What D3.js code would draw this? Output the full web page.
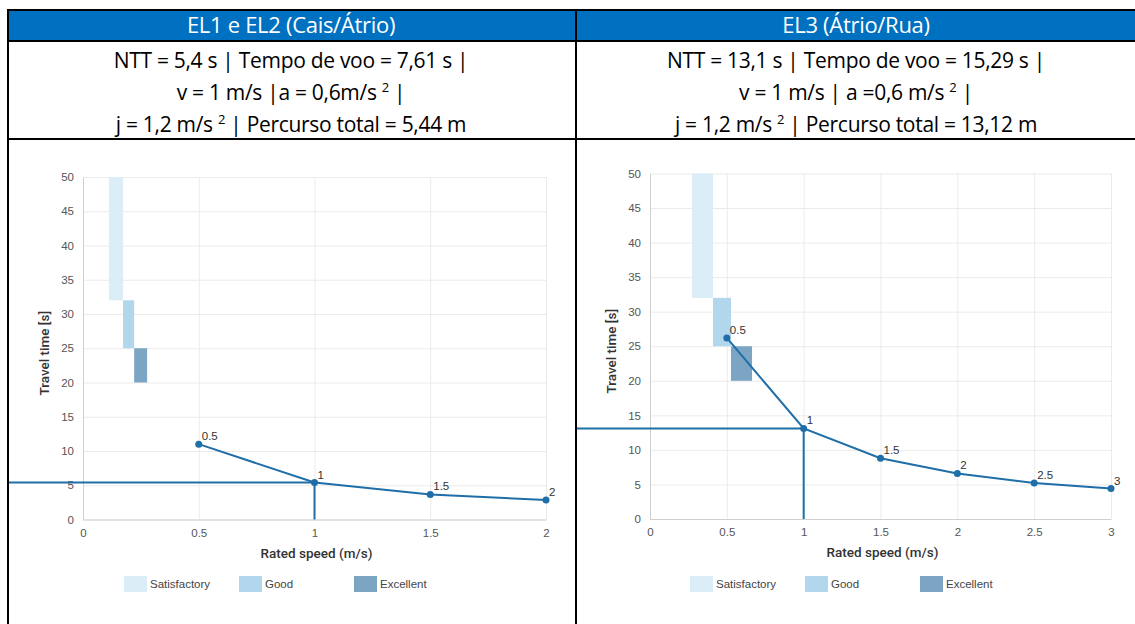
<!DOCTYPE html>
<html>
<head>
<meta charset="utf-8">
<script src="https://cdn.jsdelivr.net/npm/d3@7"></script>
<style>
  body { margin: 0; background: #fff; }
  .head { font-family: "Open Sans", "Noto Sans", sans-serif; font-weight: 500; }
  .tick text { font-family: "Liberation Sans", Arial, sans-serif; font-size: 11.5px; fill: #555; }
  .axis-title { font-family: Roboto, sans-serif; font-weight: 500; font-size: 13.5px; fill: #333; }
  .pt-label { font-family: "Liberation Sans", Arial, sans-serif; font-size: 11.5px; fill: #333; }
  .legend text { font-family: "Liberation Sans", Arial, sans-serif; font-size: 11.5px; fill: #444; }
</style>
</head>
<body>
<div id="chart"></div>
<script>
// data
const titles = ["EL1 e EL2 (Cais/Átrio)", "EL3 (Átrio/Rua)"]

const speedsA = [0.5, 1, 1.5, 2]
const timesA = [11.0, 5.4, 3.65, 2.85]
const speedsB = [0.5, 1, 1.5, 2, 2.5, 3]
const timesB = [26.2, 13.1, 8.8, 6.6, 5.2, 4.4]

const nttA = 5.4
const nttB = 13.1

const bandNames = ["Satisfactory", "Good", "Excellent"]
const bandColors = ["#dbedf7", "#b2d6ec", "#7ba5c3"]
// [x0, x1, yBottom, yTop] in data units
const bandsA = [[0.112, 0.173, 32, 50], [0.173, 0.221, 25, 32], [0.221, 0.277, 20, 25]]
const bandsB = [[0.273, 0.41, 32, 50], [0.41, 0.527, 25, 32], [0.527, 0.664, 20, 25]]

const yTicks = [0, 5, 10, 15, 20, 25, 30, 35, 40, 45, 50]
const xTicksA = [0, 0.5, 1, 1.5, 2]
const xTicksB = [0, 0.5, 1, 1.5, 2, 2.5, 3]

const infoA = [
  [["NTT = 5,4 s "], ["| ", "bar"], ["Tempo de voo = 7,61 s "], ["|", "bar"]],
  [["v = 1 m/s "], ["|", "bar"], ["a = 0,6m/s "], ["2", "sup"], [" |", "bar"]],
  [["j = 1,2 m/s "], ["2", "sup"], [" | ", "bar"], ["Percurso total = 5,44 m"]]
]
const infoB = [
  [["NTT = 13,1 s "], ["| ", "bar"], ["Tempo de voo = 15,29 s "], ["|", "bar"]],
  [["v = 1 m/s "], ["| ", "bar"], ["a =0,6 m/s "], ["2", "sup"], [" |", "bar"]],
  [["j = 1,2 m/s "], ["2", "sup"], [" | ", "bar"], ["Percurso total = 13,12 m"]]
]

const lineColor = "#1f6ea8"

const svg = d3.select("#chart").append("svg")
  .attr("width", 1135)
  .attr("height", 624)

// table
const table = svg.append("g")
table.append("rect")
  .attr("x", 8).attr("y", 10).attr("width", 1140).attr("height", 31)
  .attr("fill", "#0070c0")
const tLines = [
  [8, 10, 1140, 10], [8, 41, 1140, 41], [8, 139, 1140, 139],
  [8, 9, 8, 630], [576, 9, 576, 630]
]
tLines.forEach(l => {
  table.append("line")
    .attr("x1", l[0]).attr("y1", l[1]).attr("x2", l[2]).attr("y2", l[3])
    .attr("stroke", "#000").attr("stroke-width", 2)
})

function drawHeader(title, info, cx) {
  svg.append("text")
    .attr("class", "head")
    .attr("x", cx).attr("y", 33)
    .attr("text-anchor", "middle")
    .attr("fill", "#fff")
    .style("font-size", "22px")
    .style("letter-spacing", "-0.3px")
    .text(title)

  info.forEach((parts, i) => {
    const t = svg.append("text")
      .attr("class", "head")
      .attr("x", cx).attr("y", 68 + i * 32)
      .attr("text-anchor", "middle")
      .attr("fill", "#000")
      .style("font-size", "21px")
      .style("letter-spacing", "-0.3px")
    parts.forEach((p, k) => {
      const s = t.append("tspan").text(p[0])
      if (p[1] == "sup") s.style("font-size", "13px").attr("dy", -8)
      if (p[1] == "bar") s.style("font-weight", 400)
      // back to the baseline after a superscript
      if (p[1] != "sup" && k > 0 && parts[k - 1][1] == "sup") s.attr("dy", 8)
    })
  })
}

function drawPanel(o) {
  const x = d3.scaleLinear().domain([0, o.xMax]).range([o.left, o.right])
  const y = d3.scaleLinear().domain([0, 50]).range([o.bottom, o.top])
  const g = svg.append("g")

  // grid
  g.append("g")
    .attr("transform", `translate(0,${o.bottom})`)
    .call(d3.axisBottom(x).tickValues(o.xTicks).tickSize(o.top - o.bottom).tickFormat(""))
    .call(a => a.select(".domain").remove())
    .call(a => a.selectAll("line").attr("stroke", "#ebebeb"))
  g.append("g")
    .attr("transform", `translate(${o.left},0)`)
    .call(d3.axisLeft(y).tickValues(yTicks).tickSize(o.left - o.right).tickFormat(""))
    .call(a => a.select(".domain").remove())
    .call(a => a.selectAll("line").attr("stroke", "#ebebeb"))

  // quality bands
  g.selectAll(".band")
    .data(o.bands)
    .join("rect")
      .attr("x", d => x(d[0]))
      .attr("width", d => x(d[1]) - x(d[0]))
      .attr("y", d => y(d[3]))
      .attr("height", d => y(d[2]) - y(d[3]))
      .attr("fill", (d, i) => bandColors[i])

  // axes
  const xAxis = g.append("g")
    .attr("transform", `translate(0,${o.bottom})`)
    .call(d3.axisBottom(x).tickValues(o.xTicks).tickSize(0).tickPadding(9).tickFormat(d3.format("")))
  xAxis.select(".domain").attr("stroke", "#cfcfcf")
  const yAxis = g.append("g")
    .attr("transform", `translate(${o.left},0)`)
    .call(d3.axisLeft(y).tickValues(yTicks).tickSize(0).tickPadding(9))
  yAxis.select(".domain").attr("stroke", "#cfcfcf")

  // NTT reference lines
  g.append("line")
    .attr("x1", o.cellLeft).attr("x2", x(1))
    .attr("y1", y(o.ntt)).attr("y2", y(o.ntt))
    .attr("stroke", lineColor).attr("stroke-width", 2)
  g.append("line")
    .attr("x1", x(1)).attr("x2", x(1))
    .attr("y1", y(o.ntt)).attr("y2", y(0))
    .attr("stroke", lineColor).attr("stroke-width", 2)

  // series
  const pts = o.speeds.map((s, i) => [s, o.times[i]])
  g.append("path")
    .attr("d", d3.line().x(d => x(d[0])).y(d => y(d[1]))(pts))
    .attr("fill", "none")
    .attr("stroke", lineColor)
    .attr("stroke-width", 2)
  g.selectAll(".pt")
    .data(pts)
    .join("circle")
      .attr("cx", d => x(d[0]))
      .attr("cy", d => y(d[1]))
      .attr("r", 3.5)
      .attr("fill", lineColor)
  g.selectAll(".pt-label")
    .data(pts)
    .join("text")
      .attr("class", "pt-label")
      .attr("x", d => x(d[0]) + 3)
      .attr("y", d => y(d[1]) - 4)
      .text(d => d[0])

  // axis titles
  g.append("text")
    .attr("class", "axis-title")
    .attr("transform", `translate(${o.left - 34},${(o.top + o.bottom) / 2 + 5}) rotate(-90)`)
    .attr("text-anchor", "middle")
    .text("Travel time [s]")
  g.append("text")
    .attr("class", "axis-title")
    .attr("x", (o.left + o.right) / 2 + 2)
    .attr("y", o.bottom + 38)
    .attr("text-anchor", "middle")
    .text("Rated speed (m/s)")

  // legend
  const legend = g.append("g").attr("class", "legend")
  bandNames.forEach((name, i) => {
    legend.append("rect")
      .attr("x", o.legendX + i * 115).attr("y", 576)
      .attr("width", 23).attr("height", 16)
      .attr("fill", bandColors[i])
    legend.append("text")
      .attr("x", o.legendX + i * 115 + 26).attr("y", 588)
      .text(name)
  })
}

drawHeader(titles[0], infoA, 291)
drawHeader(titles[1], infoB, 856)

drawPanel({
  left: 83, right: 546, top: 177, bottom: 519.5, xMax: 2,
  xTicks: xTicksA, bands: bandsA, speeds: speedsA, times: timesA,
  ntt: nttA, cellLeft: 9, legendX: 124
})
drawPanel({
  left: 650, right: 1111, top: 173.5, bottom: 519, xMax: 3,
  xTicks: xTicksB, bands: bandsB, speeds: speedsB, times: timesB,
  ntt: nttB, cellLeft: 577, legendX: 690
})
</script>
</body>
</html>
